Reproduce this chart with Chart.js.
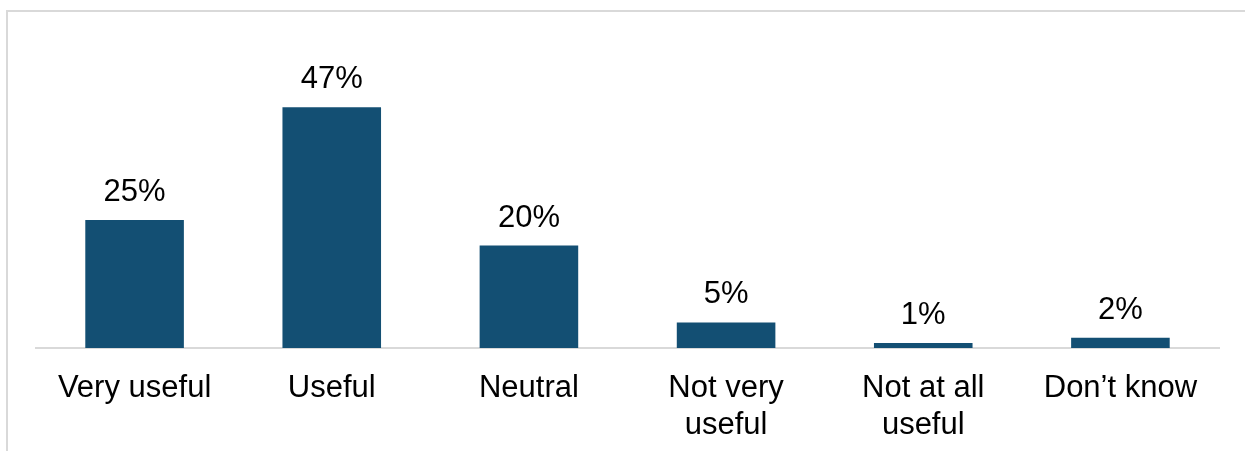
<!DOCTYPE html>
<html>
<head>
<meta charset="utf-8">
<script src="https://cdn.jsdelivr.net/npm/chart.js@4"></script>
<style>
  html,body{margin:0;padding:0;background:#fff;}
  #wrap{position:relative;width:1245px;height:451px;overflow:hidden;}
  #frame{position:absolute;left:6px;top:10px;width:1300px;height:500px;
    border-left:2px solid #d9d9d9;border-top:2px solid #d9d9d9;}
  #chart{position:absolute;left:0;top:0;}
</style>
</head>
<body>
<div id="wrap">
  <div id="frame"></div>
  <canvas id="chart" width="1245" height="451"></canvas>
</div>
<script>
// categorías y valores (%)
const categories = ['Very useful','Useful','Neutral',['Not very','useful'],['Not at all','useful'],'Don\u2019t know'];
const values = [25, 47, 20, 5, 1, 2];

const FONT = '"Liberation Sans", Arial, sans-serif';

// etiquetas encima de cada barra
const valueLabels = {
  id:'valueLabels',
  afterDatasetsDraw(chart){
    const {ctx} = chart;
    const meta = chart.getDatasetMeta(0);
    ctx.save();
    ctx.font = '31px ' + FONT;
    ctx.fillStyle = '#000';
    ctx.textAlign = 'center';
    ctx.textBaseline = 'alphabetic';
    meta.data.forEach((bar,i)=>{
      ctx.fillText(values[i] + '%', bar.x, bar.y - 19);
    });
    ctx.restore();
  }
};

new Chart(document.getElementById('chart').getContext('2d'), {
  type:'bar',
  data:{
    labels: categories,
    datasets:[{
      data: values,
      backgroundColor:'#134f73',
      borderWidth:0,
      categoryPercentage:1,
      barPercentage:0.5
    }]
  },
  options:{
    responsive:false,
    animation:false,
    layout:{padding:{left:36,right:26,top:92,bottom:0}},
    plugins:{legend:{display:false},tooltip:{enabled:false}},
    scales:{
      x:{
        grid:{display:false},
        border:{display:true,color:'#d9d9d9',width:2},
        ticks:{color:'#000',font:{family:FONT,size:31},padding:14,maxRotation:0,autoSkip:false},
        afterFit(scale){ scale.height = 103; }
      },
      y:{display:false,min:0,max:50}
    }
  },
  plugins:[valueLabels]
});
</script>
</body>
</html>
